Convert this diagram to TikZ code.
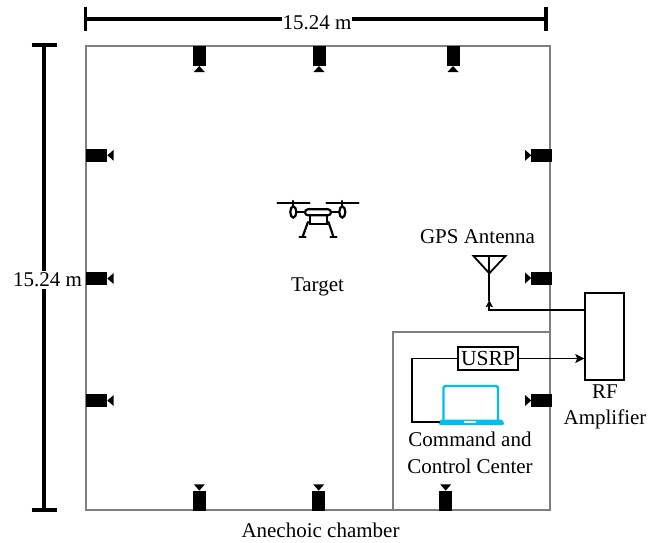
\documentclass[tikz,border=0pt]{standalone}
\usepackage{fontspec}
\setmainfont{Liberation Serif}
\usetikzlibrary{arrows.meta}
\definecolor{wallgray}{HTML}{7F7F7F}
\definecolor{laptopblue}{HTML}{00BDF2}
\tikzset{
  wall/.style={draw=wallgray,line width=2pt},
  dimline/.style={draw=black,line width=3.6pt},
  wire/.style={draw=black,line width=1.8pt},
  lbl/.style={font=\fontsize{21}{23}\selectfont,inner sep=0pt,text=black},
  dronepart/.style={draw=black,line width=2.2pt,line cap=round},
  sensorbody/.style={fill=black},
}
\newcommand{\camtop}[1]{\fill[sensorbody] (#1-6.5,45.5) rectangle (#1+6.5,65.7); \fill[sensorbody] (#1,66) -- (#1+5.5,72) -- (#1-5.5,72) -- cycle;}
\newcommand{\cambot}[1]{\fill[sensorbody] (#1-6.5,491) rectangle (#1+6.5,511); \fill[sensorbody] (#1,490.7) -- (#1+5.5,484.3) -- (#1-5.5,484.3) -- cycle;}
\newcommand{\camleft}[1]{\fill[sensorbody] (86,#1-6.5) rectangle (107,#1+6.5); \fill[sensorbody] (107.3,#1) -- (113.7,#1-5.5) -- (113.7,#1+5.5) -- cycle;}
\newcommand{\camright}[1]{\fill[sensorbody] (531.3,#1-6.5) rectangle (552,#1+6.5); \fill[sensorbody] (531.3,#1) -- (525,#1-5.5) -- (525,#1+5.5) -- cycle;}
\begin{document}
\begin{tikzpicture}[x=1pt,y=-1pt]
\useasboundingbox (0,0) rectangle (659,542);
% chamber
\draw[wall] (86,46) rectangle (550.3,510);
\draw[wall] (393.2,510) |- (550.3,332);
% cameras
\camtop{199.3}\camtop{319}\camtop{453}
\cambot{199.3}\cambot{318.7}\cambot{445.7}
\camleft{155.3}\camleft{278.5}\camleft{400.5}
\camright{155.3}\camright{278}\camright{400.5}
% dimensions
\coordinate (hl) at (85.5,18.7);
\coordinate (hr) at (546,18.7);
\coordinate (vt) at (44,45);
\coordinate (vb) at (44,510);
\draw[dimline] (hl) -- (hr);
\draw[dimline] (85.5,6.5) -- (85.5,31);
\draw[dimline] (546,6.5) -- (546,31);
\draw[dimline] (vt) -- (vb);
\draw[dimline] (31.5,45) -- (57,45);
\draw[dimline] (31.5,510) -- (57,510);
\node[lbl,fill=white,inner xsep=1pt,inner ysep=2pt] (toplabel) at (317,23) {15.24 m};
\node[lbl,fill=white,inner xsep=1pt,inner ysep=2pt] (leftlabel) at (47.5,280) {15.24 m};
% drone
\draw[dronepart] (277.5,203) -- (309.5,203);
\draw[dronepart] (326.5,203) -- (358.5,203);
\draw[dronepart] (293.3,201) -- (293.3,206);
\draw[dronepart] (342.3,201) -- (342.3,206);
\draw[dronepart] (293.3,212) ellipse (3 and 5.6);
\draw[dronepart] (342.3,212) ellipse (3 and 5.6);
\draw[dronepart] (296.5,212) -- (305,212);
\draw[dronepart] (331,212) -- (339,212);
\draw[dronepart,rounded corners=3pt] (305,209.3) rectangle (331,215.3);
\draw[dronepart] (310,215.3) -- (310,224.3) -- (326.7,224.3) -- (326.7,215.3);
\draw[dronepart] (308,222) -- (302.5,237);
\draw[dronepart] (328.5,222) -- (333.5,237);
\draw[dronepart] (299.5,237) -- (305.5,237);
\draw[dronepart] (330.5,237) -- (336.5,237);
% antenna
\node[lbl] (gps) at (477.5,237) {GPS Antenna};
\coordinate (anttop) at (489.3,256);
\coordinate (anttip) at (489.3,273.3);
\draw[wire,line join=miter] (473.5,256) -- (505.5,256) -- (anttip) -- cycle;
\draw[wire] (anttop) -- (489.3,301);
% boxes
\node[draw=black,line width=1.8pt,minimum width=39pt,minimum height=87.3pt,inner sep=0pt] (amp) at (604.7,336.3) {};
\node[draw=black,line width=1.8pt,minimum width=59.4pt,minimum height=23.6pt,inner sep=0pt,font=\fontsize{21.5}{23}\selectfont] (usrp) at (488,358.5) {USRP};
% laptop
\coordinate (lapl) at (440,421.7);
\draw[draw=laptopblue,line width=2.2pt,rounded corners=1.5pt] (443.5,420) -- (443.5,386) -- (498,386) -- (498,420);
\fill[laptopblue,rounded corners=1.5pt] (440,419.5) -- (502.5,419.5) -- (504.5,425) -- (438.5,425) -- cycle;
\fill[white] (464,420.7) rectangle (476,422.7);
% connectors
\draw[wire,-{Stealth[length=7pt,width=7pt,inset=1pt]}] (amp.west |- 0,310.3) -- (489.3,310.3) -- (489.3,300);
\draw[wire,-{Stealth[length=9pt,width=9pt,inset=2pt]}] (usrp.east) -- (amp.west |- usrp.east);
\draw[wire] (usrp.west) -| (412.3,421.7) -- (lapl);
% labels
\node[lbl] (target) at (317.5,286.5) {Target};
\node[lbl] (rf) at (605,392) {RF};
\node[lbl] (amplabel) at (605,419.5) {Amplifier};
\node[lbl] (cmd) at (470,439.5) {Command and};
\node[lbl] (ctl) at (470,466) {Control Center};
\node[lbl] (chamber) at (320.5,530.5) {Anechoic chamber};
\end{tikzpicture}
\end{document}
